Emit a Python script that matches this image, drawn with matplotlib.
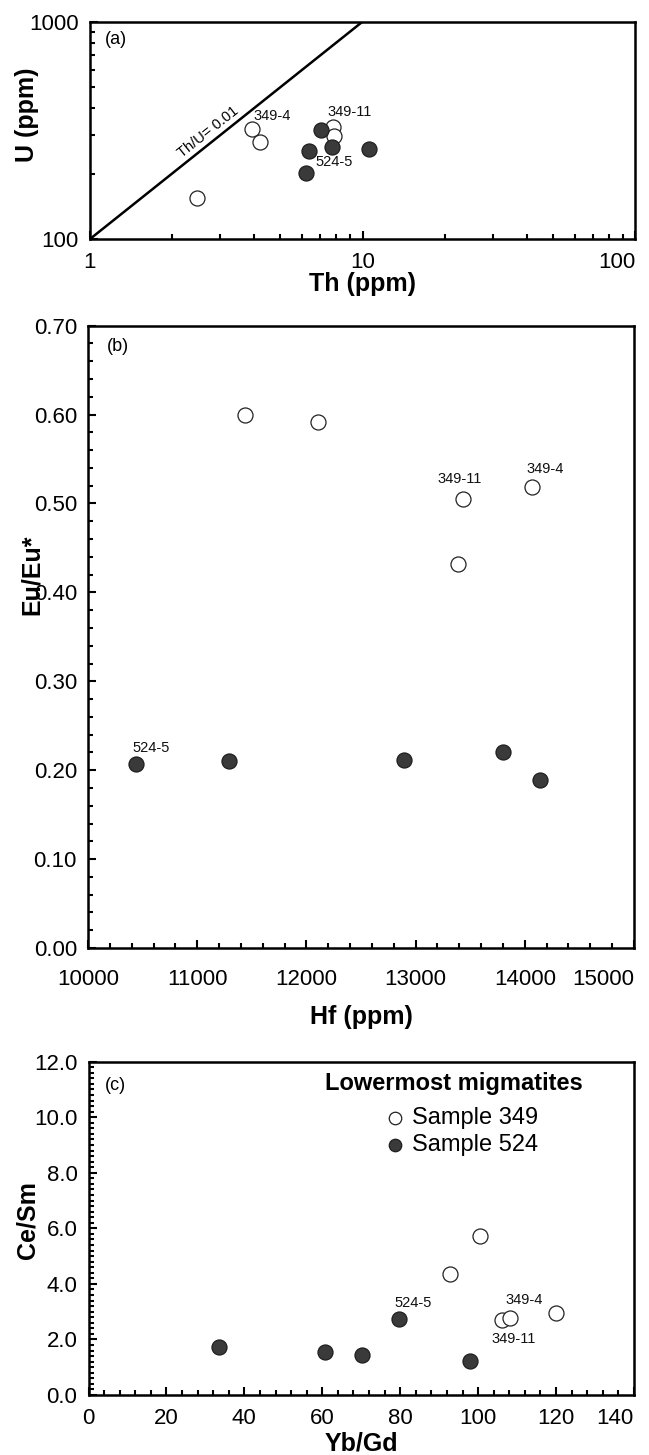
import numpy as np
import matplotlib
matplotlib.use("Agg")
import matplotlib.pyplot as plt
from matplotlib.ticker import MultipleLocator, LogLocator, FuncFormatter, NullFormatter

plt.rcParams['font.family'] = ['Liberation Sans', 'DejaVu Sans']

# ---- data ----
# (a) Th vs U
th_349 = [2.46, 3.94, 4.20, 7.78, 7.88]
u_349 = [155, 321, 279, 329, 299]
th_524 = [7.02, 6.38, 7.75, 10.6, 6.19]
u_524 = [317, 255, 266, 259, 202]
thu_ratio = 0.01
th_line = np.array([1.0, 10.0])

# (b) Hf vs Eu/Eu*
hf_349 = [11439, 12102, 13431, 14063, 13385]
eu_349 = [0.600, 0.592, 0.505, 0.519, 0.432]
hf_524 = [10438, 11291, 12898, 13797, 14139]
eu_524 = [0.207, 0.210, 0.212, 0.220, 0.189]

# (c) Yb/Gd vs Ce/Sm
ybgd_349 = [100.5, 92.8, 106.2, 108.3, 120.1]
cesm_349 = [5.72, 4.36, 2.71, 2.78, 2.95]
ybgd_524 = [33.6, 60.6, 70.2, 79.8, 98.0]
cesm_524 = [1.74, 1.56, 1.44, 2.73, 1.24]

# point labels (text, x, y)
labels_a = [("349-4", 4.65, 368), ("349-11", 8.96, 384), ("524-5", 7.86, 226)]
labels_b = [("349-11", 13400, 0.527), ("349-4", 14190, 0.539), ("524-5", 10580, 0.225)]
labels_c = [("524-5", 83.3, 3.31), ("349-4", 111.8, 3.41), ("349-11", 109.1, 2.01)]

W, H = 649, 1455
fig = plt.figure(figsize=(W / 100, H / 100), dpi=100)


def px_axes(left, right, top, bottom):
    return fig.add_axes([left / W, 1 - bottom / H, (right - left) / W, (bottom - top) / H])


ax_a = px_axes(90, 635, 21.7, 239)
ax_b = px_axes(88, 634, 325.7, 948)
ax_c = px_axes(88.5, 634, 1061.7, 1395)

open_kw = dict(s=117, facecolor='white', edgecolor='#222222', linewidths=0.9, zorder=3)
fill_kw = dict(s=117, facecolor='#3a3a3a', edgecolor='#1e1e1e', linewidths=0.9, zorder=3)
lab_kw = dict(fontsize=10.5, ha='center', va='center', color='#111111')


def style(ax):
    for sp in ax.spines.values():
        sp.set_linewidth(1.8)
    ax.tick_params(which='both', direction='in', top=False, right=False,
                   width=1.5, labelsize=16, colors='black')
    ax.tick_params(which='major', length=6)
    ax.tick_params(which='minor', length=3.5)


# ---- (a) ----
ax = ax_a
ax.set_xscale('log')
ax.set_yscale('log')
ax.set_xlim(1, 100)
ax.set_ylim(100, 1000)
ax.plot(th_line, th_line / thu_ratio, color='black', lw=1.8, zorder=2)
ax.scatter(th_349, u_349, **open_kw)
ax.scatter(th_524, u_524, **fill_kw)
ax.text(2.71, 310, "Th/U= 0.01", fontsize=10.5, ha='center', va='center',
        rotation=38.5, rotation_mode='anchor')
for t, x, y in labels_a:
    ax.text(x, y, t, **lab_kw)
ax.xaxis.set_major_locator(LogLocator(base=10, numticks=5))
ax.yaxis.set_major_locator(LogLocator(base=10, numticks=5))
ax.xaxis.set_minor_locator(LogLocator(base=10, subs=np.arange(2, 10), numticks=20))
ax.yaxis.set_minor_locator(LogLocator(base=10, subs=np.arange(2, 10), numticks=20))
ax.xaxis.set_major_formatter(FuncFormatter(lambda v, p: f"{v:g}"))
ax.yaxis.set_major_formatter(FuncFormatter(lambda v, p: f"{v:g}"))
ax.xaxis.set_minor_formatter(NullFormatter())
ax.yaxis.set_minor_formatter(NullFormatter())
style(ax)
ax.tick_params(axis='x', pad=9)
ax.tick_params(axis='y', pad=8)
ax.set_xlabel("Th (ppm)", fontsize=18, fontweight='bold')
ax.set_ylabel("U (ppm)", fontsize=18, fontweight='bold')
ax.xaxis.set_label_coords(0.5, -0.152)
ax.yaxis.set_label_coords(-0.0927, 0.571)
ax.text(0.0275, 0.916, "(a)", transform=ax.transAxes, fontsize=13, va='center')

# ---- (b) ----
ax = ax_b
ax.set_xlim(10000, 15000)
ax.set_ylim(0, 0.7)
ax.scatter(hf_349, eu_349, **open_kw)
ax.scatter(hf_524, eu_524, **fill_kw)
for t, x, y in labels_b:
    ax.text(x, y, t, **lab_kw)
ax.xaxis.set_major_locator(MultipleLocator(1000))
ax.xaxis.set_minor_locator(MultipleLocator(200))
ax.yaxis.set_major_locator(MultipleLocator(0.1))
ax.yaxis.set_minor_locator(MultipleLocator(0.02))
ax.yaxis.set_major_formatter(FuncFormatter(lambda v, p: f"{v:.2f}"))
ax.xaxis.set_major_formatter(FuncFormatter(lambda v, p: f"{v:.0f}"))
style(ax)
ax.tick_params(axis='x', pad=15)
ax.tick_params(axis='y', pad=8)
ax.set_xlabel("Hf (ppm)", fontsize=18, fontweight='bold')
ax.set_ylabel("Eu/Eu*", fontsize=18, fontweight='bold')
ax.xaxis.set_label_coords(0.5, -0.0916)
ax.yaxis.set_label_coords(-0.081, 0.599)
ax.text(0.035, 0.966, "(b)", transform=ax.transAxes, fontsize=13, va='center')

# ---- (c) ----
ax = ax_c
ax.set_xlim(0, 140)
ax.set_ylim(0, 12)
h349 = ax.scatter(ybgd_349, cesm_349, label="Sample 349", **open_kw)
h524 = ax.scatter(ybgd_524, cesm_524, label="Sample 524", **fill_kw)
for t, x, y in labels_c:
    ax.text(x, y, t, **lab_kw)
ax.xaxis.set_major_locator(MultipleLocator(20))
ax.xaxis.set_minor_locator(MultipleLocator(4))
ax.yaxis.set_major_locator(MultipleLocator(2))
ax.yaxis.set_minor_locator(MultipleLocator(0.2))
ax.yaxis.set_major_formatter(FuncFormatter(lambda v, p: f"{v:.1f}"))
ax.xaxis.set_major_formatter(FuncFormatter(lambda v, p: f"{v:.0f}"))
style(ax)
ax.tick_params(axis='x', pad=9.5)
ax.tick_params(axis='y', pad=8)
ax.set_xlabel("Yb/Gd", fontsize=18, fontweight='bold')
ax.set_ylabel("Ce/Sm", fontsize=18, fontweight='bold')
ax.xaxis.set_label_coords(0.5, -0.110)
ax.yaxis.set_label_coords(-0.0898, 0.525)
ax.text(0.030, 0.930, "(c)", transform=ax.transAxes, fontsize=13, va='center')
ax.text(0.670, 0.936, "Lowermost migmatites", transform=ax.transAxes,
        fontsize=17, fontweight='bold', ha='center', va='center')
ax.legend(handles=[h349, h524], loc='upper left', bbox_to_anchor=(0.549, 0.864),
          frameon=False, fontsize=17, markerscale=0.83, handlelength=0.6,
          handletextpad=0.4, borderpad=0, borderaxespad=0, labelspacing=0.2)

# keep the rightmost x tick label inside the figure
fig.canvas.draw()
for ax in (ax_a, ax_b, ax_c):
    xmax = ax.get_xlim()[1]
    for tick in ax.xaxis.get_major_ticks():
        if np.isclose(tick.get_loc(), xmax):
            tick.label1.set_horizontalalignment('right')
            tick.label1.set_x(tick.get_loc())

fig.savefig("out.png", dpi=100)
